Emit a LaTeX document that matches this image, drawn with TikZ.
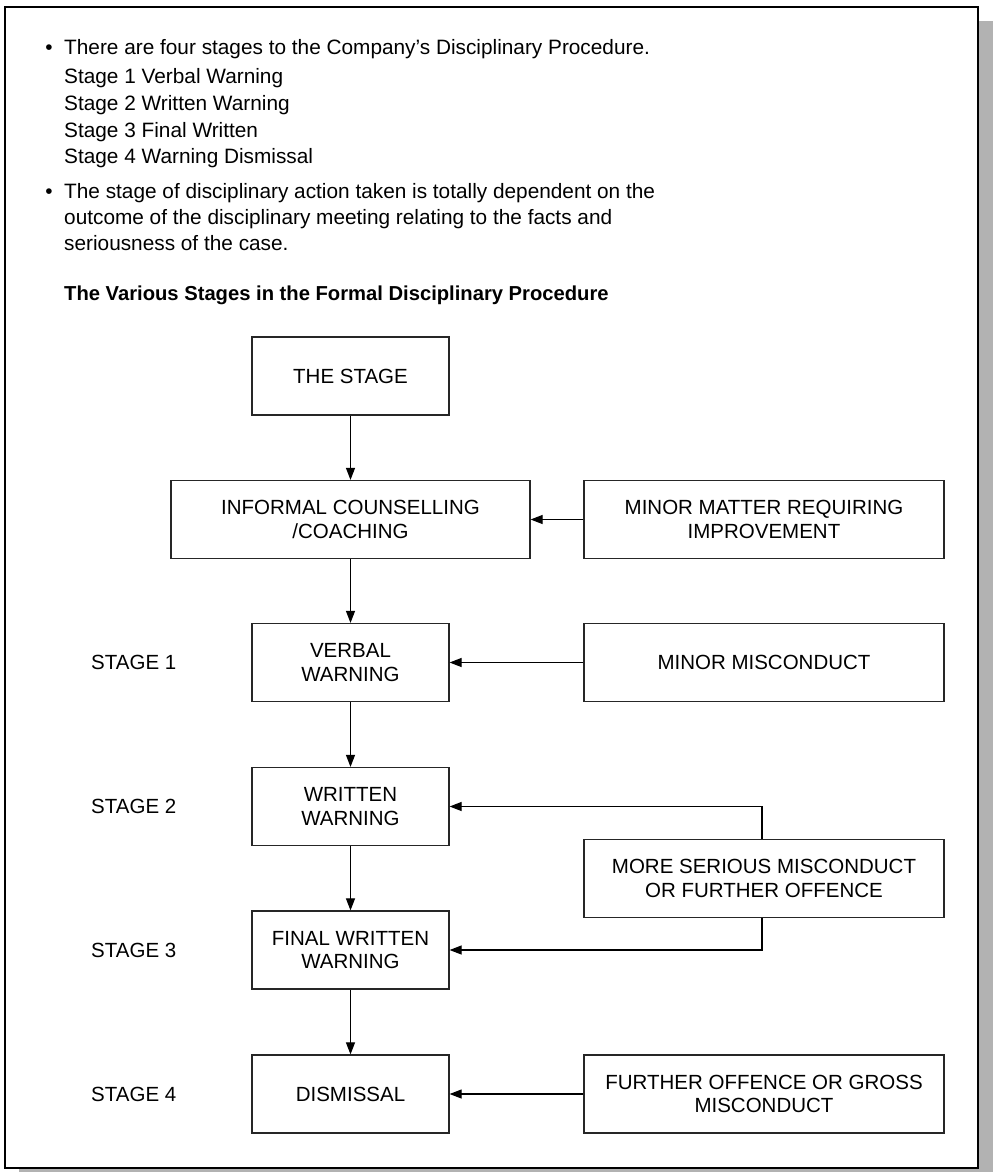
\documentclass[tikz,border=0pt]{standalone}
\usepackage{fontspec}
\setmainfont{Liberation Sans}
\usetikzlibrary{arrows.meta}
\begin{document}
\begin{tikzpicture}[x=1pt,y=-1pt,
  box/.style={draw=black!85, line width=1.2pt, minimum width=197pt, minimum height=78pt,
    align=center, inner sep=0pt, font=\fontsize{20.5}{23.5}\selectfont},
  widebox/.style={box, minimum width=359pt},
  sidebox/.style={box, minimum width=360pt},
  arr/.style={line width=1.1pt, -{Triangle[length=12pt,width=9pt]}},
  bodytext/.style={anchor=base west, inner sep=0pt, font=\fontsize{20.8}{27}\selectfont},
  bul/.style={anchor=base, inner sep=0pt, font=\fontsize{20.8}{27}\selectfont},
  stagelabel/.style={anchor=west, inner sep=0pt, font=\fontsize{20.5}{23.5}\selectfont}
]
\useasboundingbox (0,0) rectangle (993,1172);
% shadow and frame
\fill[black!30] (19,21) rectangle (993,1180);
\draw[fill=white, line width=1.5pt] (5,7) rectangle (978,1168);

% text
\node[bul] (b1) at (49,55) {•};
\node[bodytext] (t1) at (64,55) {There are four stages to the Company’s Disciplinary Procedure.};
\node[bodytext] (t2) at (64,83) {Stage 1 Verbal Warning};
\node[bodytext] (t3) at (64,110) {Stage 2 Written Warning};
\node[bodytext] (t4) at (64,137) {Stage 3 Final Written};
\node[bodytext] (t5) at (64,163) {Stage 4 Warning Dismissal};
\node[bul] (b2) at (49,198) {•};
\node[bodytext] (t6) at (64,198) {The stage of disciplinary action taken is totally dependent on the};
\node[bodytext] (t7) at (64,224) {outcome of the disciplinary meeting relating to the facts and};
\node[bodytext] (t8) at (64,250) {seriousness of the case.};
\node[anchor=base west, inner sep=0pt, font=\fontsize{20.2}{24}\selectfont\bfseries] (head) at (64,300)
  {The Various Stages in the Formal Disciplinary Procedure};

% boxes
\node[box] (stage) at (350.5,376) {THE STAGE};
\node[widebox] (informal) at (350.5,519.5) {INFORMAL COUNSELLING\\/COACHING};
\node[sidebox] (matter) at (764,519.5) {MINOR MATTER REQUIRING\\IMPROVEMENT};
\node[box] (verbal) at (350.5,662.5) {VERBAL\\WARNING};
\node[sidebox] (minor) at (764,662.5) {MINOR MISCONDUCT};
\node[box] (written) at (350.5,806.5) {WRITTEN\\WARNING};
\node[sidebox] (serious) at (764,878.5) {MORE SERIOUS MISCONDUCT\\OR FURTHER OFFENCE};
\node[box] (final) at (350.5,950) {FINAL WRITTEN\\WARNING};
\node[box] (dismissal) at (350.5,1094) {DISMISSAL};
\node[sidebox] (further) at (764,1094) {FURTHER OFFENCE OR GROSS\\MISCONDUCT};

% stage labels
\node[stagelabel] (s1) at (91,662.5) {STAGE 1};
\node[stagelabel] (s2) at (91,806.5) {STAGE 2};
\node[stagelabel] (s3) at (91,950) {STAGE 3};
\node[stagelabel] (s4) at (91,1094) {STAGE 4};

% connectors
\coordinate (sx) at (762,0);
\draw[arr] (stage) -- (informal);
\draw[arr] (informal) -- (verbal);
\draw[arr] (verbal) -- (written);
\draw[arr] (written) -- (final);
\draw[arr] (final) -- (dismissal);
\draw[arr] (matter) -- (informal);
\draw[arr] (minor) -- (verbal);
\draw[arr] (further) -- (dismissal);
\draw[arr] (serious.north -| sx) |- (written.east);
\draw[arr] (serious.south -| sx) |- (final.east);
\end{tikzpicture}
\end{document}
